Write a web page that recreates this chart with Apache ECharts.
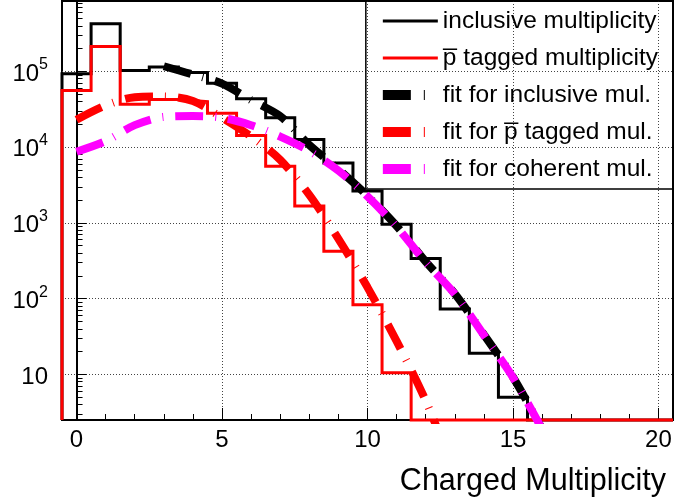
<!DOCTYPE html>
<html>
<head>
<meta charset="utf-8">
<script src="https://cdn.jsdelivr.net/npm/echarts@6/dist/echarts.min.js"></script>
<style>
  html, body { margin: 0; padding: 0; background: #fff; }
  #chart { width: 678px; height: 500px; }
</style>
</head>
<body>
<div id="chart"></div>
<script>
// charged multiplicity bins
const bins = [0, 1, 2, 3, 4, 5, 6, 7, 8, 9, 10, 11, 12, 13, 14, 15, 16, 17, 18, 19, 20]
const inclusiveCounts = [93000, 425000, 103000, 114000, 97000, 70000, 43400, 24400, 12600, 6200, 2640, 960, 340, 73, 19, 5, 0, 0, 0, 0, 0]
const pbarCounts = [56000, 213000, 36800, 42500, 40000, 28000, 14300, 5600, 1670, 421, 83, 10.5, 0, 0, 0, 0, 0, 0, 0, 0, 0]

// fit curves read at integer multiplicity
const fitInclusiveN = [3, 4, 5, 6, 7, 8, 9, 10, 11, 12, 13, 14, 15, 16]
const fitInclusive = [117000, 91000, 69000, 41700, 25700, 10700, 5100, 2280, 910, 308, 116, 33.5, 9.2, 1.9]
const fitPbarN = [0, 1, 2, 3, 4, 5, 6, 7, 8, 9, 10, 11, 12, 13]
const fitPbar = [23000, 35500, 45700, 46800, 40700, 24500, 13800, 6800, 2340, 617, 141, 27.5, 4.5, 0.5]
const fitCoherentN = [0, 1, 2, 3, 4, 5, 6, 7, 8, 9, 10, 11, 12, 13, 14, 15, 16]
const fitCoherent = [8700, 12000, 19500, 25100, 25700, 24500, 19500, 13800, 8900, 4900, 2240, 890, 302, 115, 33, 9.1, 1.9]

const xMajorTicks = [0, 5, 10, 15, 20]
const xMinorTicks = [1, 2, 3, 4, 6, 7, 8, 9, 11, 12, 13, 14, 16, 17, 18, 19]
const yMajorTicks = [10, 100, 1000, 10000, 100000]
const yMin = 2.5
const yMax = 850000

const yMinorTicks = []
;[1, 10, 100, 1000, 10000, 100000].forEach(d => {
  for (let k = 2; k <= 9; k++) {
    if (k * d > yMin && k * d < yMax) yMinorTicks.push(k * d)
  }
})

const LBL_PBAR = 'p\u0305 tagged multiplicity'
const FIT_PBAR = 'fit for p\u0305 tagged mul.'
const dash = [28, 12, 1, 12]
const legendDash = [28, 13, 1, 20]

function histPath(counts) {
  const pts = [[bins[0] - 0.5, yMin]]
  counts.forEach((c, i) => {
    const v = c > 0 ? c : yMin
    pts.push([bins[i] - 0.5, v], [bins[i] + 0.5, v])
  })
  return pts
}

function pairs(xs, ys) {
  return xs.map((x, i) => [x, ys[i]])
}

const chart = echarts.init(document.getElementById('chart'))

const font = 'Liberation Sans'

chart.setOption({
  animation: false,
  textStyle: { fontFamily: font, color: '#000' },
  grid: {
    left: 62, top: 1, right: 5, bottom: 80,
    show: true, borderColor: '#000', borderWidth: 2
  },
  legend: {
    orient: 'vertical',
    right: 5,
    top: 1,
    padding: [6, 15, 6, 12],
    itemWidth: 55,
    itemHeight: 12,
    itemGap: 9,
    borderColor: '#000',
    borderWidth: 1.5,
    selectedMode: false,
    itemStyle: { opacity: 0 },
    textStyle: { fontSize: 24.5, fontFamily: font, color: '#000', lineHeight: 28 },
    data: [
      { name: 'inclusive multiplicity', lineStyle: { width: 3 } },
      { name: LBL_PBAR, lineStyle: { width: 3 } },
      { name: 'fit for inclusive mul.', lineStyle: { width: 10, type: legendDash } },
      { name: FIT_PBAR, lineStyle: { width: 10, type: legendDash } },
      { name: 'fit for coherent mul.', lineStyle: { width: 10, type: legendDash } }
    ]
  },
  xAxis: [
    {
      type: 'value',
      min: -0.5,
      max: 20.5,
      name: 'Charged Multiplicity',
      nameLocation: 'end',
      nameGap: -7,
      nameTextStyle: { fontSize: 30.5, fontFamily: font, color: '#000', align: 'right', verticalAlign: 'top', padding: [46, 0, 0, 0] },
      axisLine: { lineStyle: { color: '#000', width: 2 } },
      axisTick: { inside: true, length: 12, customValues: xMajorTicks, lineStyle: { color: '#000' } },
      axisLabel: { customValues: xMajorTicks, fontSize: 24, color: '#000', margin: 8 },
      splitLine: { show: true, lineStyle: { color: '#444', type: [1, 2] } }
    },
    {
      type: 'value',
      min: -0.5,
      max: 20.5,
      position: 'bottom',
      axisLine: { show: false },
      axisTick: { inside: true, length: 6, customValues: xMinorTicks, lineStyle: { color: '#000' } },
      axisLabel: { show: false },
      splitLine: { show: false }
    }
  ],
  yAxis: [
    {
      type: 'log',
      logBase: 10,
      min: yMin,
      max: yMax,
      axisLine: { show: true, lineStyle: { color: '#000', width: 2 } },
      axisTick: { show: true, inside: true, length: 10, customValues: yMajorTicks, lineStyle: { color: '#000' } },
      axisLabel: {
        customValues: yMajorTicks,
        margin: 14,
        formatter: v => {
          const e = Math.round(Math.log10(v))
          return e === 1 ? '{p|10}' : '{b|10}{s|' + e + '}'
        },
        rich: {
          p: { fontSize: 24, fontFamily: font, color: '#000', lineHeight: 29, verticalAlign: 'bottom' },
          b: { fontSize: 24, fontFamily: font, color: '#000', lineHeight: 29, verticalAlign: 'bottom' },
          s: { fontSize: 16, fontFamily: font, color: '#000', verticalAlign: 'top' }
        }
      },
      splitLine: { show: true, lineStyle: { color: '#444', type: [1, 2] } }
    },
    {
      type: 'log',
      logBase: 10,
      min: yMin,
      max: yMax,
      position: 'left',
      axisLine: { show: false },
      axisTick: { show: true, inside: true, length: 6, customValues: yMinorTicks, lineStyle: { color: '#000' } },
      axisLabel: { show: false },
      splitLine: { show: false }
    }
  ],
  series: [
    {
      name: 'inclusive multiplicity',
      type: 'line',
      data: histPath(inclusiveCounts),
      symbol: 'none',
      clip: false,
      lineStyle: { color: '#000', width: 3, join: 'miter' },
      itemStyle: { color: '#000' }
    },
    {
      name: LBL_PBAR,
      type: 'line',
      data: histPath(pbarCounts),
      symbol: 'none',
      clip: false,
      lineStyle: { color: '#ff0000', width: 3, join: 'miter' },
      itemStyle: { color: '#ff0000' }
    },
    {
      name: 'fit for inclusive mul.',
      type: 'line',
      data: pairs(fitInclusiveN, fitInclusive),
      symbol: 'none',
      smooth: 0.3,
      clip: true,
      lineStyle: { color: '#000', width: 8, type: dash, cap: 'butt' },
      itemStyle: { color: '#000' }
    },
    {
      name: FIT_PBAR,
      type: 'line',
      data: pairs(fitPbarN, fitPbar),
      symbol: 'none',
      smooth: 0.3,
      clip: true,
      lineStyle: { color: '#ff0000', width: 8, type: dash, cap: 'butt' },
      itemStyle: { color: '#ff0000' }
    },
    {
      name: 'fit for coherent mul.',
      type: 'line',
      data: pairs(fitCoherentN, fitCoherent),
      symbol: 'none',
      smooth: 0.3,
      clip: true,
      lineStyle: { color: '#ff00ff', width: 8, type: dash, cap: 'butt' },
      itemStyle: { color: '#ff00ff' }
    }
  ]
})
</script>
</body>
</html>
